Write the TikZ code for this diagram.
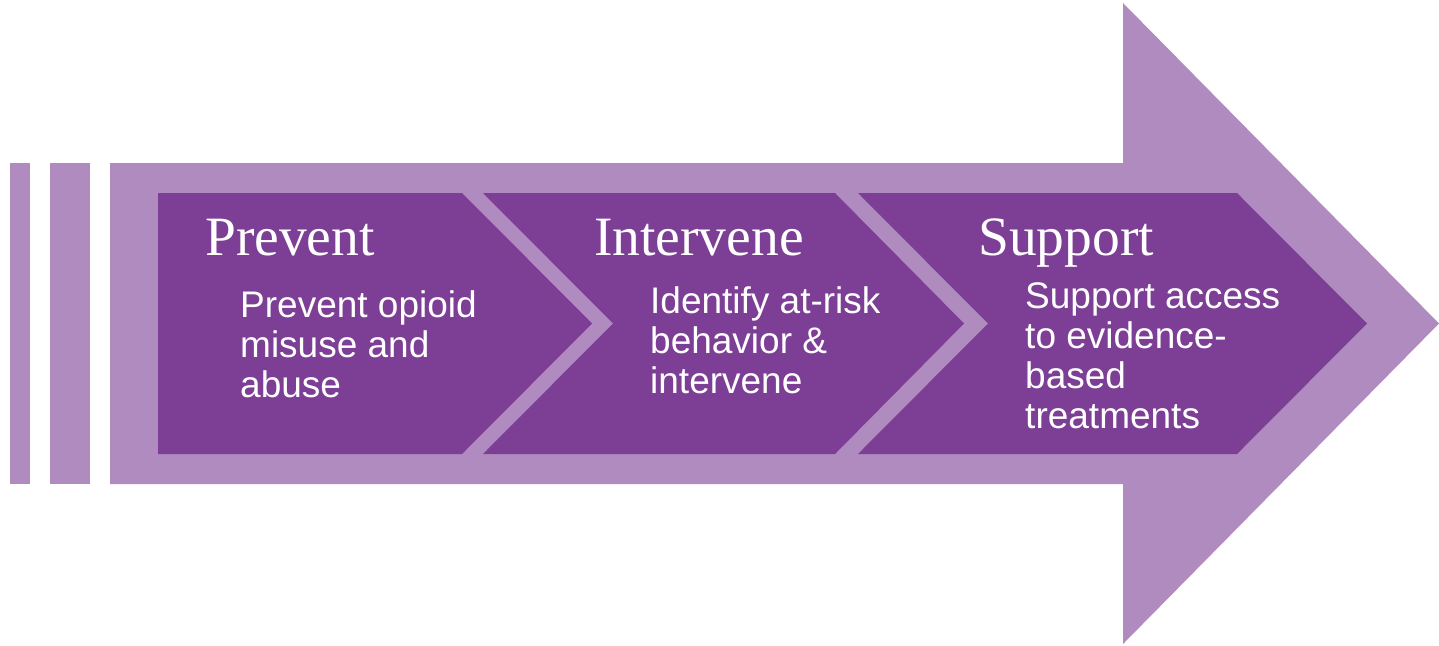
\documentclass[tikz,border=0pt]{standalone}
\usepackage{fontspec}
\setmainfont{Liberation Serif}
\setsansfont{Liberation Sans}
\definecolor{lightpurple}{RGB}{176,139,191}
\definecolor{darkpurple}{RGB}{125,62,150}
\tikzset{
  band/.style={fill=lightpurple,draw=none},
  chev/.style={fill=darkpurple,draw=none},
  title/.style={anchor=base west,inner sep=0pt,text=white,font=\fontsize{55.5}{60}\selectfont},
  body/.style={anchor=north west,inner sep=0pt,text=white,align=left,font=\sffamily\fontsize{37}{40}\selectfont}
}
\begin{document}
\begin{tikzpicture}[x=1pt,y=-1pt]
\useasboundingbox (0,0) rectangle (1439,645);
% left bars
\fill[band] (10,163) rectangle (30,484);
\fill[band] (50,163) rectangle (90,484);
% big arrow
\fill[band] (110,163) -- (1123,163) -- (1123,3) -- (1439,323.5) -- (1123,644) -- (1123,484) -- (110,484) -- cycle;
% chevrons
\fill[chev] (158,193) -- (462,193) -- (592,323.5) -- (462,454) -- (158,454) -- cycle;
\fill[chev] (483,193) -- (835,193) -- (964,323.5) -- (835,454) -- (483,454) -- (613,323.5) -- cycle;
\fill[chev] (858,193) -- (1237,193) -- (1367,323.5) -- (1237,454) -- (858,454) -- (988,323.5) -- cycle;
% titles
\node[title] (t1) at (205,255) {Prevent};
\node[title] (t2) at (594,255) {Intervene};
\node[title] (t3) at (978,255) {Support};
% bodies
\node[body] (b1) at (240,290) {Prevent opioid\\misuse and\\abuse};
\node[body] (b2) at (650,286) {Identify at-risk\\behavior \&\\intervene};
\node[body] (b3) at (1025,282) {Support access\\to evidence-\\based\\treatments};
\end{tikzpicture}
\end{document}
